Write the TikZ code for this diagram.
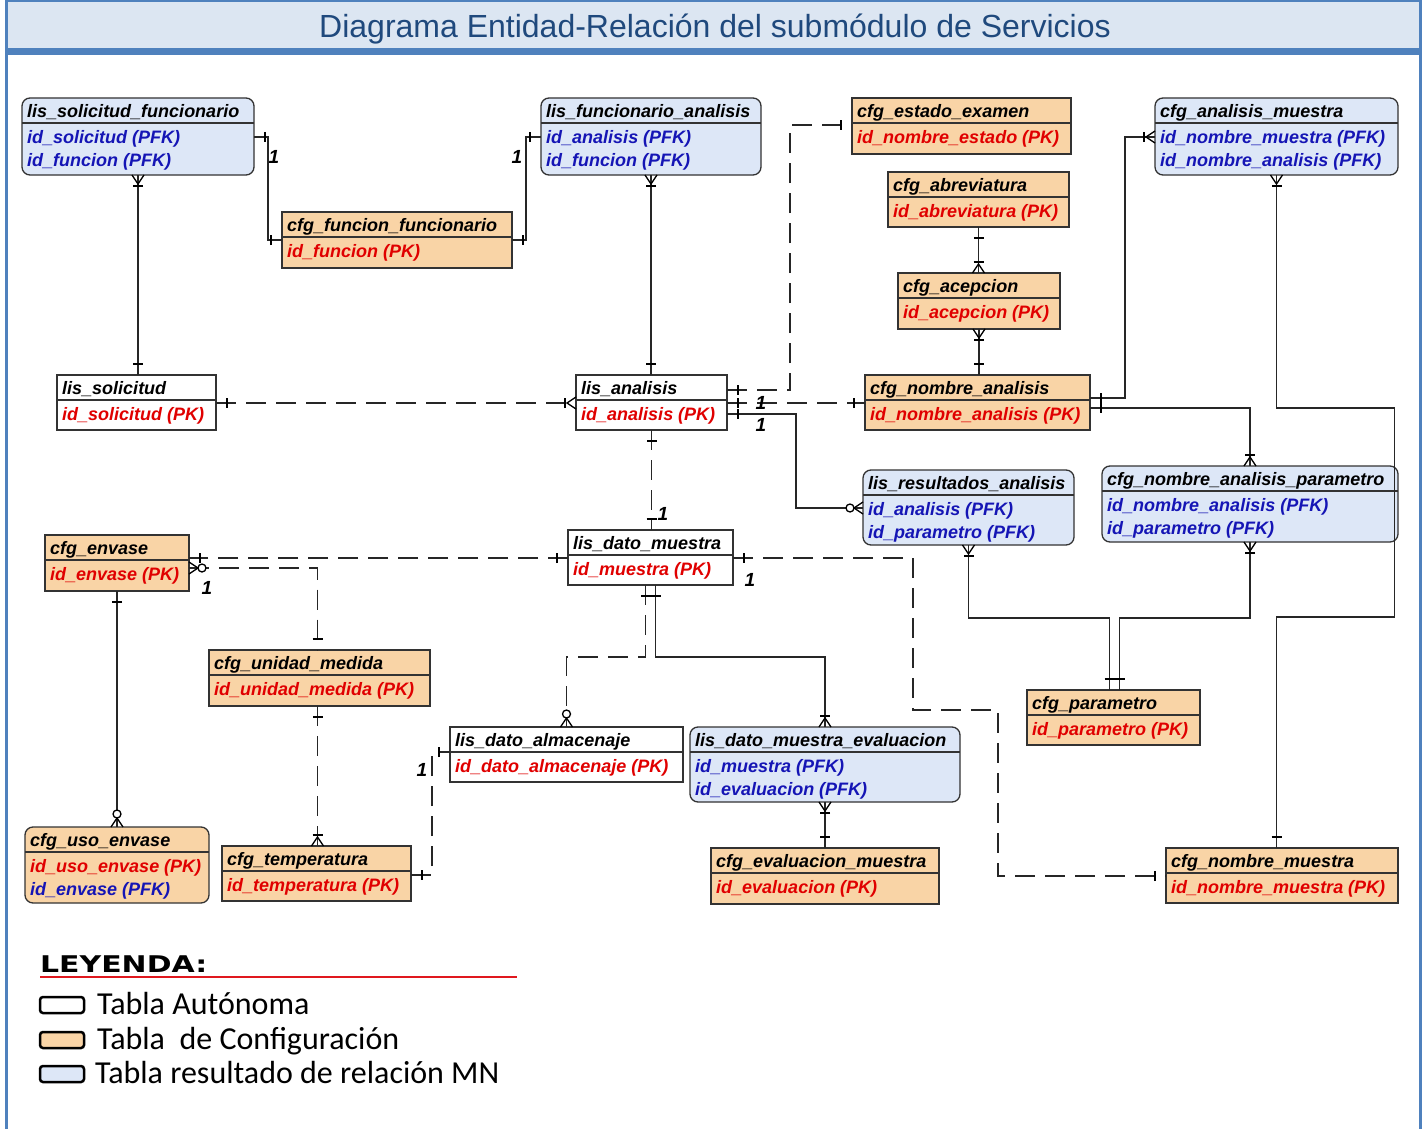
\documentclass[tikz,border=0pt]{standalone}
\usepackage{fontspec}
\setmainfont{Liberation Sans}
\newfontfamily\legfont{Carlito}
\newfontfamily\leyfont{DejaVu Sans}
\usepackage{graphicx}
\definecolor{cfgfill}{HTML}{F9D4A6}
\definecolor{mnfill}{HTML}{DDE7F7}
\definecolor{pkred}{HTML}{E00000}
\definecolor{pfkblue}{HTML}{1515B5}
\definecolor{hdrfill}{HTML}{DCE6F2}
\definecolor{frameblue}{HTML}{4F81BD}
\definecolor{titleblue}{HTML}{1F497D}
\definecolor{legred}{HTML}{E0181E}
\newcommand\pk[1]{\textcolor{pkred}{#1}}
\newcommand\pfk[1]{\textcolor{pfkblue}{#1}}
\tikzset{
  entbox/.style={draw=black!80, line width=1.3pt, inner sep=0pt, outer sep=0pt},
  aut/.style={entbox, fill=white},
  cfg/.style={entbox, fill=cfgfill},
  mn/.style={entbox, fill=mnfill, rounded corners=8pt},
  cfgr/.style={cfg, rounded corners=8pt},
  hdr/.style={inner sep=0pt, font=\fontsize{18}{20}\selectfont\bfseries\itshape},
  rowt/.style={hdr},
  divl/.style={draw=black!80, line width=1.3pt},
  ln/.style={line width=1.4pt, draw=black!85},
  dl/.style={ln, dash pattern=on 20pt off 10pt},
  onelbl/.style={font=\fontsize{19}{21}\selectfont\bfseries\itshape, inner sep=0pt},
  legbox/.style={draw=black, line width=2.5pt, rounded corners=3pt, minimum width=44pt, minimum height=16pt, inner sep=0pt},
  legtxt/.style={font=\legfont\fontsize{32}{36}\selectfont, inner sep=0pt, anchor=base west},
  pics/mkone/.style={code={\draw[line width=1.3pt] (11,-5) -- (11,5);}},
  pics/mkmany/.style={code={\draw[line width=1.3pt] (0,-6) -- (9,0) -- (0,6); \draw[line width=1.3pt] (11,-5) -- (11,5);}},
  pics/mkzero/.style={code={\draw[line width=1.3pt] (0,-6) -- (9,0) -- (0,6); \draw[line width=1.3pt, fill=white] (13,0) circle (4);}},
}
% name, style, x1, y1, x2, y2, header, rows
\newcommand\erent[8]{%
  \node[#2, anchor=north west, minimum width={(#5-#3)*1pt}, minimum height={(#6-#4)*1pt}] (#1) at (#3,#4) {};
  \draw[divl] ([yshift=-25pt]#1.north west) -- ([yshift=-25pt]#1.north east);
  \node[hdr, anchor=base west] (#1-h) at ({#3+5},{#4+19.5}) {#7};
  \foreach \tt [count=\rr] in {#8} {\node[rowt, anchor=base west] (#1-r\rr) at ({#3+5},{#4+22.5+23*\rr}) {\tt};}
}
\begin{document}
\begin{tikzpicture}[x=1pt,y=-1pt]
\useasboundingbox (0,0) rectangle (1424,1129);
\fill[white] (0,0) rectangle (1424,1129);
% frame and title band
\fill[hdrfill] (5,0) rectangle (1422,49);
\fill[frameblue] (5,48) rectangle (1422,55);
\draw[frameblue, line width=2pt] (5,1) -- (1422,1);
\draw[frameblue, line width=3pt] (6.5,0) -- (6.5,1129);
\draw[frameblue, line width=3pt] (1420.5,0) -- (1420.5,1129);
\node[font=\fontsize{32}{36}\selectfont, text=titleblue, inner sep=0pt] (title) at (715,29) {Diagrama Entidad-Relación del submódulo de Servicios};

% entities
\erent{lsf}{mn}{22}{98}{254}{175}{lis\_solicitud\_funcionario}{{\pfk{id\_solicitud (PFK)}},{\pfk{id\_funcion (PFK)}}}
\erent{cff}{cfg}{282}{212}{512}{268}{cfg\_funcion\_funcionario}{{\pk{id\_funcion (PK)}}}
\erent{lfa}{mn}{541}{98}{761}{175}{lis\_funcionario\_analisis}{{\pfk{id\_analisis (PFK)}},{\pfk{id\_funcion (PFK)}}}
\erent{cee}{cfg}{852}{98}{1071}{154}{cfg\_estado\_examen}{{\pk{id\_nombre\_estado (PK)}}}
\erent{cab}{cfg}{888}{172}{1069}{227}{cfg\_abreviatura}{{\pk{id\_abreviatura (PK)}}}
\erent{cac}{cfg}{898}{273}{1060}{329}{cfg\_acepcion}{{\pk{id\_acepcion (PK)}}}
\erent{cam}{mn}{1155}{98}{1398}{175}{cfg\_analisis\_muestra}{{\pfk{id\_nombre\_muestra (PFK)}},{\pfk{id\_nombre\_analisis (PFK)}}}
\erent{ls}{aut}{57}{375}{216}{430}{lis\_solicitud}{{\pk{id\_solicitud (PK)}}}
\erent{la}{aut}{576}{375}{727}{430}{lis\_analisis}{{\pk{id\_analisis (PK)}}}
\erent{cna}{cfg}{865}{375}{1090}{430}{cfg\_nombre\_analisis}{{\pk{id\_nombre\_analisis (PK)}}}
\erent{lra}{mn}{863}{470}{1074}{545}{lis\_resultados\_analisis}{{\pfk{id\_analisis (PFK)}},{\pfk{id\_parametro (PFK)}}}
\erent{cnap}{mn}{1102}{466}{1398}{542}{cfg\_nombre\_analisis\_parametro}{{\pfk{id\_nombre\_analisis (PFK)}},{\pfk{id\_parametro (PFK)}}}
\erent{cen}{cfg}{45}{535}{189}{591}{cfg\_envase}{{\pk{id\_envase (PK)}}}
\erent{ldm}{aut}{568}{530}{733}{585}{lis\_dato\_muestra}{{\pk{id\_muestra (PK)}}}
\erent{cum}{cfg}{209}{650}{430}{706}{cfg\_unidad\_medida}{{\pk{id\_unidad\_medida (PK)}}}
\erent{lda}{aut}{450}{727}{683}{782}{lis\_dato\_almacenaje}{{\pk{id\_dato\_almacenaje (PK)}}}
\erent{ldme}{mn}{690}{727}{960}{802}{lis\_dato\_muestra\_evaluacion}{{\pfk{id\_muestra (PFK)}},{\pfk{id\_evaluacion (PFK)}}}
\erent{cpar}{cfg}{1027}{690}{1200}{745}{cfg\_parametro}{{\pk{id\_parametro (PK)}}}
\erent{cue}{cfgr}{25}{827}{209}{903}{cfg\_uso\_envase}{{\pk{id\_uso\_envase (PK)}},{\pfk{id\_envase (PFK)}}}
\erent{ctemp}{cfg}{222}{846}{411}{901}{cfg\_temperatura}{{\pk{id\_temperatura (PK)}}}
\erent{cem}{cfg}{711}{848}{939}{904}{cfg\_evaluacion\_muestra}{{\pk{id\_evaluacion (PK)}}}
\erent{cnm}{cfg}{1166}{848}{1398}{903}{cfg\_nombre\_muestra}{{\pk{id\_nombre\_muestra (PK)}}}

% connectors
\draw[ln] ([yshift=-39pt]lsf.north east) -- ++(14,0) |- (cff.west);
\draw[ln] (cff.east) -- ++(14,0) |- ([yshift=-39pt]lfa.north west);
\draw[ln] (lsf.south) -- (lsf.south |- ls.north);
\draw[ln] (lfa.south) -- (lfa.south |- la.north);
\draw[dl] ([yshift=-28pt]ls.north east) -- ([yshift=-28pt]la.north west);
\draw[dl] ([yshift=-15pt]la.north east) -- ++(63,0) |- ([yshift=-27pt]cee.north west);
\draw[dl] ([yshift=-28pt]la.north east) -- ([yshift=-28pt]cna.north west);
\draw[ln] ([yshift=-39pt]la.north east) -- ++(69,0) |- ([yshift=-38pt]lra.north west);
\draw[dl] (la.south) -- (la.south |- ldm.north);
\draw[ln] (cab.south) -- (cab.south |- cac.north);
\draw[ln] (cac.south) -- (cac.south |- cna.north);
\draw[ln] ([yshift=-23pt]cna.north east) -- ++(35,0) |- ([yshift=-39pt]cam.north west);
\draw[ln] ([yshift=-33pt]cna.north east) -| (cnap.north);
\draw[ln] (cam.south) -- ++(0,233) -- ++(118,0) -- ++(0,209) -- ++(-118,0) -- (cam.south |- cnm.north);
\draw[ln] (lra.south) -- ++(0,73) -| ([xshift=-4pt]cpar.north);
\draw[ln] (cnap.south) -- ++(0,76) -| ([xshift=6pt]cpar.north);
\draw[dl] ([yshift=-28pt]ldm.north east) -- ++(180,0) -- ++(0,152) -- ++(85,0) |- ([yshift=-28pt]cnm.north west);
\draw[dl] ([yshift=-28pt]ldm.north west) -- ([yshift=-23pt]cen.north east);
\draw[dl] ([yshift=-33pt]cen.north east) -| ([xshift=-2pt]cum.north);
\draw[ln] (cen.south) -- (cen.south |- cue.north);
\draw[dl] ([xshift=-2pt]cum.south) -- ([xshift=-2pt]cum.south |- ctemp.north);
\draw[dl] ([yshift=-29pt]ctemp.north east) -- ++(21,0) |- ([yshift=-25pt]lda.north west);
\draw[dl] ([xshift=-5pt]ldm.south) -- ++(0,72) -| (lda.north);
\draw[ln] ([xshift=5pt]ldm.south) -- ++(0,72) -| (ldme.north);
\draw[ln] (ldme.south) -- (ldme.south |- cem.north);

% end markers
\pic at ([yshift=-39pt]lsf.north east) {mkone};
\pic[rotate=180] at (cff.west) {mkone};
\pic at (cff.east) {mkone};
\pic[rotate=180] at ([yshift=-39pt]lfa.north west) {mkone};
\pic[rotate=-90] at (lsf.south) {mkmany};
\pic[rotate=90] at (lsf.south |- ls.north) {mkone};
\pic[rotate=-90] at (lfa.south) {mkmany};
\pic[rotate=90] at (lfa.south |- la.north) {mkone};
\pic at ([yshift=-28pt]ls.north east) {mkone};
\pic[rotate=180] at ([yshift=-28pt]la.north west) {mkmany};
\pic at ([yshift=-15pt]la.north east) {mkone};
\pic[rotate=180] at ([yshift=-27pt]cee.north west) {mkone};
\pic at ([yshift=-28pt]la.north east) {mkone};
\pic[rotate=180] at ([yshift=-28pt]cna.north west) {mkone};
\pic at ([yshift=-39pt]la.north east) {mkone};
\pic[rotate=180] at ([yshift=-38pt]lra.north west) {mkzero};
\pic[rotate=-90] at (la.south) {mkone};
\pic[rotate=90] at (la.south |- ldm.north) {mkone};
\pic[rotate=-90] at (cab.south) {mkone};
\pic[rotate=90] at (cab.south |- cac.north) {mkmany};
\pic[rotate=-90] at (cac.south) {mkmany};
\pic[rotate=90] at (cac.south |- cna.north) {mkone};
\pic at ([yshift=-23pt]cna.north east) {mkone};
\pic[rotate=180] at ([yshift=-39pt]cam.north west) {mkmany};
\pic at ([yshift=-33pt]cna.north east) {mkone};
\pic[rotate=90] at (cnap.north) {mkmany};
\pic[rotate=-90] at (cam.south) {mkmany};
\pic[rotate=90] at (cam.south |- cnm.north) {mkone};
\pic[rotate=-90] at (lra.south) {mkmany};
\pic[rotate=90] at ([xshift=-4pt]cpar.north) {mkone};
\pic[rotate=-90] at (cnap.south) {mkmany};
\pic[rotate=90] at ([xshift=6pt]cpar.north) {mkone};
\pic at ([yshift=-28pt]ldm.north east) {mkone};
\pic[rotate=180] at ([yshift=-28pt]cnm.north west) {mkone};
\pic[rotate=180] at ([yshift=-28pt]ldm.north west) {mkone};
\pic at ([yshift=-23pt]cen.north east) {mkone};
\pic at ([yshift=-33pt]cen.north east) {mkzero};
\pic[rotate=90] at ([xshift=-2pt]cum.north) {mkone};
\pic[rotate=-90] at (cen.south) {mkone};
\pic[rotate=90] at (cen.south |- cue.north) {mkzero};
\pic[rotate=-90] at ([xshift=-2pt]cum.south) {mkone};
\pic[rotate=90] at ([xshift=-2pt]cum.south |- ctemp.north) {mkmany};
\pic at ([yshift=-29pt]ctemp.north east) {mkone};
\pic[rotate=180] at ([yshift=-25pt]lda.north west) {mkone};
\pic[rotate=-90] at ([xshift=-5pt]ldm.south) {mkone};
\pic[rotate=90] at (lda.north) {mkzero};
\pic[rotate=-90] at ([xshift=5pt]ldm.south) {mkone};
\pic[rotate=90] at (ldme.north) {mkmany};
\pic[rotate=-90] at (ldme.south) {mkmany};
\pic[rotate=90] at (ldme.south |- cem.north) {mkone};

% cardinality labels
\node[onelbl] (o1) at (274,157) {1};
\node[onelbl] (o2) at (517,157) {1};
\node[onelbl] (o3) at (761,403) {1};
\node[onelbl] (o4) at (761,425) {1};
\node[onelbl] (o5) at (663,514) {1};
\node[onelbl] (o6) at (750,580) {1};
\node[onelbl] (o7) at (207,588) {1};
\node[onelbl] (o8) at (422,770) {1};

% legend
\node[inner sep=0pt, anchor=base west, font=\leyfont\bfseries\fontsize{23}{26}\selectfont] (ley) at (40,972) {\scalebox{1.3}[1]{LEYENDA:}};
\draw[legred, line width=2.5pt] (40,977) -- (517,977);
\node[legbox, fill=white] (lg1) at (62,1005) {};
\node[legbox, fill=cfgfill] (lg2) at (62,1040) {};
\node[legbox, fill=mnfill] (lg3) at (62,1074) {};
\node[legtxt] (lt1) at (97,1014) {Tabla Autónoma};
\node[legtxt] (lt2) at (97,1049) {Tabla~ de Configuración};
\node[legtxt] (lt3) at (95,1083) {Tabla resultado de relación MN};
\end{tikzpicture}
\end{document}
